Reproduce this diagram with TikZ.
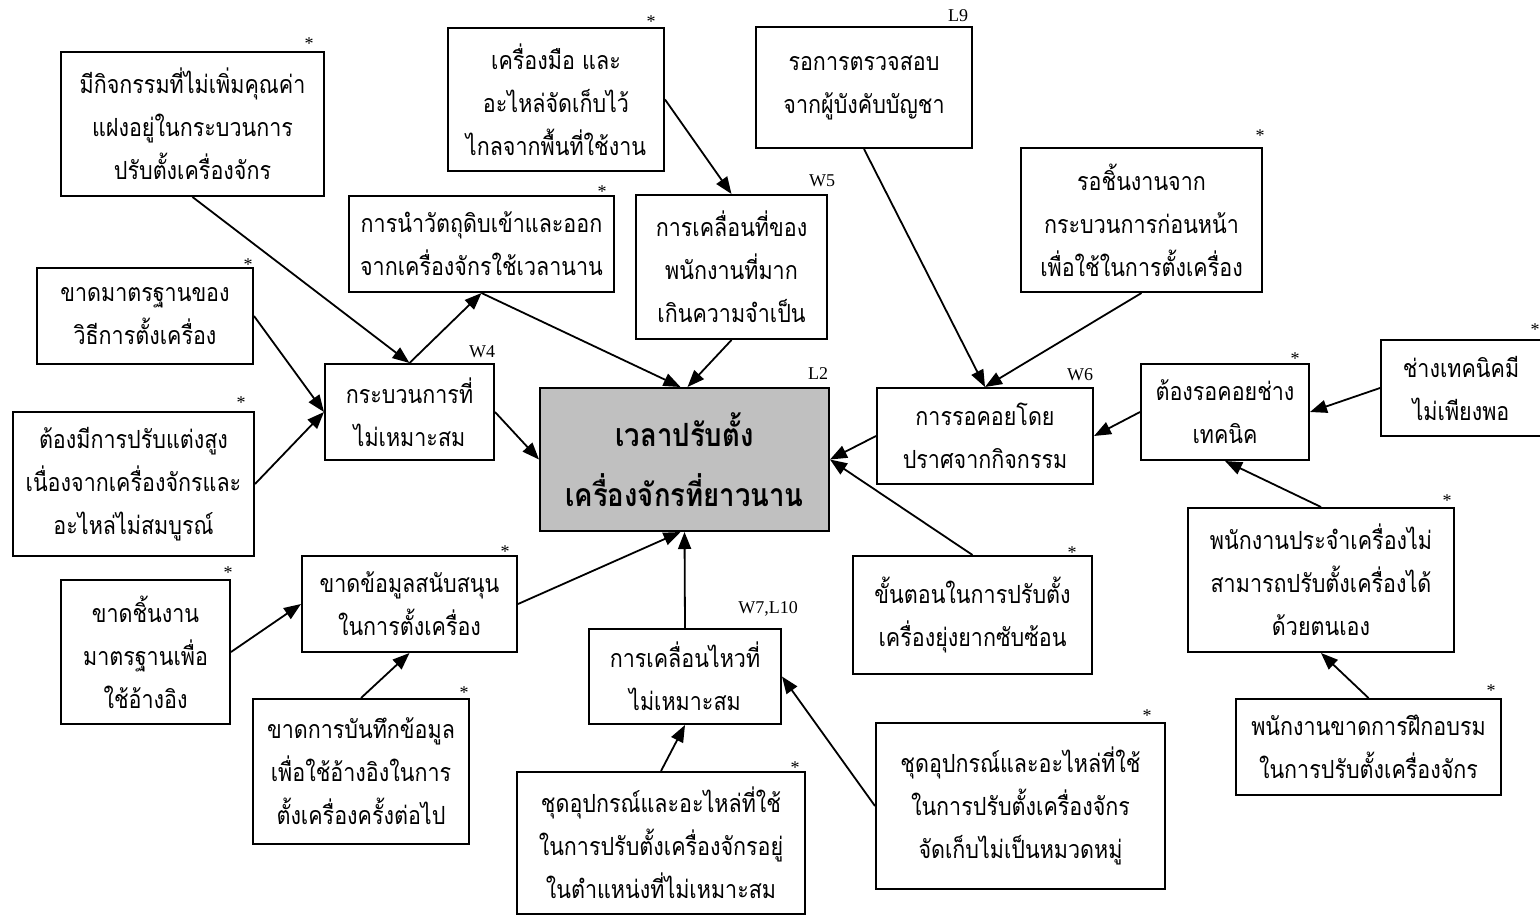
\documentclass[tikz,border=0pt]{standalone}
\usepackage{fontspec}
\setmainfont{Liberation Serif}
\newfontfamily\thaifont[Script=Thai, FakeStretch=0.86]{Loma}
\usetikzlibrary{arrows.meta,calc}
\definecolor{corefill}{RGB}{192,192,192}

% box from its corner pixels: name, x1, y1, x2, y2, text
\newcommand{\causebox}[7][]{%
  \pgfmathsetmacro{\cbw}{(#5-#3)*0.5}%
  \pgfmathsetmacro{\cbh}{(#6-#4)*0.5}%
  \node[box, minimum width=\cbw pt, minimum height=\cbh pt, #1] (#2)
    at ({(#3+#5)/2},{(#4+#6)/2}) {#7};}

\begin{document}
\begin{tikzpicture}[x=0.5pt, y=-0.5pt,
  box/.style={draw, line width=1pt, inner sep=0pt, align=center,
    font=\thaifont\fontsize{12.5}{21.5}\selectfont},
  core/.style={fill=corefill, font=\thaifont\bfseries\fontsize{16}{30}\selectfont},
  tag/.style={inner sep=0pt, font=\fontsize{9}{10}\selectfont},
  arr/.style={draw, line width=0.9pt, -{Triangle[length=8.5pt,width=6.5pt]}}]

\useasboundingbox (0,0) rectangle (1540,916);

% causes and sub-causes
\causebox{b1}{61}{52}{324}{196}{มีกิจกรรมที่ไม่เพิ่มคุณค่า\\แฝงอยู่ในกระบวนการ\\ปรับตั้งเครื่องจักร}
\causebox{b2}{448}{28}{664}{171}{เครื่องมือ และ\\อะไหล่จัดเก็บไว้\\ไกลจากพื้นที่ใช้งาน}
\causebox{b3}{756}{27}{972}{148}{รอการตรวจสอบ\\จากผู้บังคับบัญชา}
\causebox{b4}{1021}{148}{1262}{292}{รอชิ้นงานจาก\\กระบวนการก่อนหน้า\\เพื่อใช้ในการตั้งเครื่อง}
\causebox{b5}{349}{196}{614}{292}{การนำวัตถุดิบเข้าและออก\\จากเครื่องจักรใช้เวลานาน}
\causebox{b6}{636}{195}{827}{339}{การเคลื่อนที่ของ\\พนักงานที่มาก\\เกินความจำเป็น}
\causebox{b7}{37}{268}{253}{364}{ขาดมาตรฐานของ\\วิธีการตั้งเครื่อง}
\causebox{b8}{325}{364}{494}{460}{กระบวนการที่\\ไม่เหมาะสม}
\causebox[core]{c}{540}{388}{829}{531}{เวลาปรับตั้ง\\เครื่องจักรที่ยาวนาน}
\causebox{b10}{877}{388}{1093}{484}{การรอคอยโดย\\ปราศจากกิจกรรม}
\causebox{b11}{1141}{364}{1309}{460}{ต้องรอคอยช่าง\\เทคนิค}
\causebox{b12}{1381}{340}{1541}{436}{ช่างเทคนิคมี\\ไม่เพียงพอ}
\causebox{b13}{13}{412}{254}{556}{ต้องมีการปรับแต่งสูง\\เนื่องจากเครื่องจักรและ\\อะไหล่ไม่สมบูรณ์}
\causebox{b14}{61}{580}{230}{724}{ขาดชิ้นงาน\\มาตรฐานเพื่อ\\ใช้อ้างอิง}
\causebox{b15}{302}{556}{517}{652}{ขาดข้อมูลสนับสนุน\\ในการตั้งเครื่อง}
\causebox{b16}{1188}{508}{1454}{652}{พนักงานประจำเครื่องไม่\\สามารถปรับตั้งเครื่องได้\\ด้วยตนเอง}
\causebox{b17}{853}{556}{1092}{674}{ขั้นตอนในการปรับตั้ง\\เครื่องยุ่งยากซับซ้อน}
\causebox{b18}{589}{629}{781}{724}{การเคลื่อนไหวที่\\ไม่เหมาะสม}
\causebox{b19}{253}{699}{469}{844}{ขาดการบันทึกข้อมูล\\เพื่อใช้อ้างอิงในการ\\ตั้งเครื่องครั้งต่อไป}
\causebox{b20}{876}{723}{1165}{889}{ชุดอุปกรณ์และอะไหล่ที่ใช้\\ในการปรับตั้งเครื่องจักร\\จัดเก็บไม่เป็นหมวดหมู่}
\causebox{b21}{1236}{699}{1501}{795}{พนักงานขาดการฝึกอบรม\\ในการปรับตั้งเครื่องจักร}
\causebox{b22}{517}{772}{805}{914}{ชุดอุปกรณ์และอะไหล่ที่ใช้\\ในการปรับตั้งเครื่องจักรอยู่\\ในตำแหน่งที่ไม่เหมาะสม}

% waste codes and asterisks above the boxes
\node[tag] (t1)  at (309,44)  {*};
\node[tag] (t2)  at (651,22)  {*};
\node[tag] (t3)  at (958,16)  {L9};
\node[tag] (t4)  at (1260,136) {*};
\node[tag] (t5)  at (602,192) {*};
\node[tag] (t6)  at (822,181) {W5};
\node[tag] (t7)  at (248,265) {*};
\node[tag] (t8)  at (482,352) {W4};
\node[tag] (tc)  at (818,374) {L2};
\node[tag] (t10) at (1080,375) {W6};
\node[tag] (t11) at (1295,359) {*};
\node[tag] (t12) at (1535,330) {*};
\node[tag] (t13) at (241,403) {*};
\node[tag] (t14) at (228,573) {*};
\node[tag] (t15) at (505,552) {*};
\node[tag] (t16) at (1447,501) {*};
\node[tag] (t17) at (1072,553) {*};
\node[tag] (t18) at (768,609) {W7,L10};
\node[tag] (t19) at (464,693) {*};
\node[tag] (t20) at (1147,716) {*};
\node[tag] (t21) at (1491,691) {*};
\node[tag] (t22) at (795,768) {*};

% cause-and-effect arrows
\draw[arr] (b1.south) -- (b8.north);
\draw[arr] (b8.north) -- (b5.south);
\draw[arr] (b5.south) -- ($(c.north)+(-4,0)$);
\draw[arr] (b6.south) -- ($(c.north)+(3,0)$);
\draw[arr] (b2.east) -- (b6.north);
\draw[arr] (b7.east) -- (b8.west);
\draw[arr] (b13.east) -- (b8.west);
\draw[arr] (b8.east) -- (c.west);
\draw[arr] (b3.south) -- (b10.north);
\draw[arr] (b4.south) -- (b10.north);
\draw[arr] (b10.west) -- (c.east);
\draw[arr] (b17.north) -- (c.east);
\draw[arr] (b11.west) -- (b10.east);
\draw[arr] (b12.west) -- (b11.east);
\draw[arr] (b16.north) -- (b11.south);
\draw[arr] (b21.north) -- (b16.south);
\draw[arr] (b18.north) -- (c.south);
\draw[arr] (b15.east) -- ($(c.south)+(-4,0)$);
\draw[arr] (b14.east) -- (b15.west);
\draw[arr] (b19.north) -- (b15.south);
\draw[arr] (b22.north) -- (b18.south);
\draw[arr] (b20.west) -- (b18.east);
\end{tikzpicture}
\end{document}
